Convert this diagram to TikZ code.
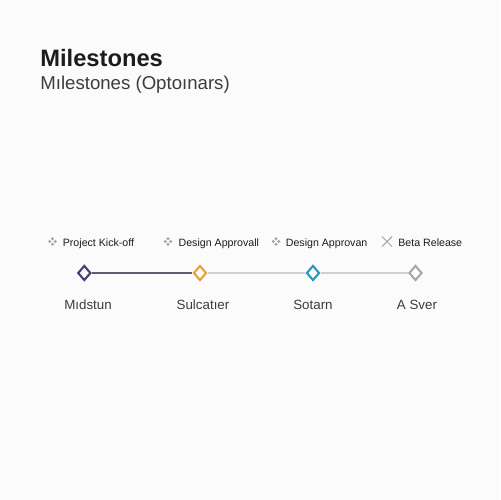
\documentclass[tikz,border=0pt]{standalone}
\usepackage{fontspec}
\setmainfont{Liberation Sans}
\usetikzlibrary{shapes.geometric,positioning}

\definecolor{mpurple}{HTML}{4A3B7C}
\definecolor{morange}{HTML}{E9A23B}
\definecolor{mteal}{HTML}{2B97BF}
\definecolor{mgray}{HTML}{A8A8A8}
\definecolor{inkdark}{HTML}{1C1C1E}
\definecolor{inksoft}{HTML}{3C3C3E}
\definecolor{dotgray}{HTML}{A4A4A4}
\definecolor{linedark}{HTML}{5F5B70}
\definecolor{linelight}{HTML}{CFCFCF}
\definecolor{paper}{HTML}{FBFBFB}

\tikzset{
  legenddots/.pic = {
    \foreach \a in {0,90,180,270}
      \fill[dotgray] (\a:2.7) circle (1.6);
  },
  legendcross/.pic = {
    \draw[dotgray, line width=0.6pt] (-5,-5) -- (5,5) (-5,5) -- (5,-5);
  },
}

\begin{document}
\begin{tikzpicture}[
    x = 0.02cm,
    y = -0.02cm,
    mstone/.style = {
      diamond,
      fill = white,
      line width = 1.2pt,
      inner sep = 0,
      minimum width = 0.26cm,
      minimum height = 0.30cm,
    },
    legendtext/.style = {
      anchor = base west,
      inner sep = 0,
      text = inkdark,
      font = \fontsize{6.05}{7}\selectfont,
    },
    milabel/.style = {
      anchor = base,
      inner sep = 0,
      text = inksoft,
      font = \fontsize{7.6}{9}\selectfont,
    },
  ]
  \fill[paper] (0,0) rectangle (500,500);
  \useasboundingbox (0,0) rectangle (500,500);

  \node[
    anchor = base west,
    inner sep = 0,
    text = inkdark,
    font = \fontsize{13.5}{16}\selectfont\bfseries,
  ] (title) at (40,67) {Milestones};
  \node[
    anchor = base west,
    inner sep = 0,
    text = inksoft,
    font = \fontsize{10.6}{13}\selectfont,
  ] (subtitle) at (40,89.5) {Mılestones (Optoınars)};

  \foreach \i/\x/\tx/\desc in {
    1/52.5/62.5/{Project Kick-off},
    2/168/178.3/{Design Approvall},
    3/276/285.5/{Design Approvan}
  }{
    \pic at (\x,241.5) {legenddots};
    \node[legendtext] (l\i) at (\tx,246) {\desc};
  }
  \pic at (387,241.5) {legendcross};
  \node[legendtext] (l4) at (398,246) {Beta Release};

  \foreach \i/\x/\col/\lx/\desc in {
    1/84.3/mpurple/88/{Mıdstun},
    2/200/morange/203/{Sulcatıer},
    3/313/mteal/313/{Sotarn},
    4/415.5/mgray/417/{A Sver}
  }{
    \node[mstone, draw = \col] (m\i) at (\x,273) {};
    \node[milabel] (t\i) at (\lx,309) {\desc};
  }

  \draw[linedark, line width=0.9pt] (m1) -- (m2);
  \draw[linelight, line width=0.7pt] (m2) -- (m3);
  \draw[linelight, line width=0.7pt] (m3) -- (m4);
\end{tikzpicture}
\end{document}
